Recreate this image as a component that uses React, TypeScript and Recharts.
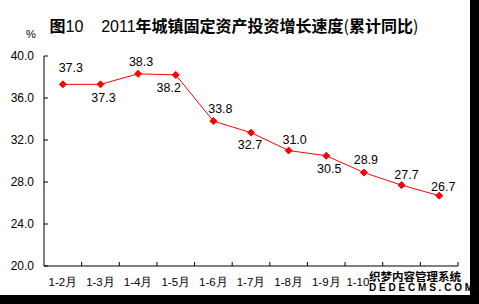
import { LineChart, Line, XAxis, YAxis, LabelList } from "recharts";

const months = ["1-2月", "1-3月", "1-4月", "1-5月", "1-6月", "1-7月", "1-8月", "1-9月", "1-10月", "1-11月", "1-12月"];
const growth = [37.3, 37.3, 38.3, 38.2, 33.8, 32.7, 31.0, 30.5, 28.9, 27.7, 26.7];
const yTicks = [20, 24, 28, 32, 36, 40];

// label nudges (dx, dy) relative to each point
const labelNudge: [number, number][] = [
  [8, -17], [3, 13], [3, -12], [-7, 13], [7, -13], [-1, 12], [6, -11], [3, 13], [2, -13], [5, -11], [4, -9],
];
// the last two month labels sit under the site watermark in the original
const hiddenUnderMark = 2;

const data = months.map((m, i) => ({ month: m, value: growth[i] }));

const FONT = '"Liberation Sans", Arial, sans-serif';
const AXIS_X = 44;
const AXIS_Y = 266;
const HALF_BAND = (458 - 44) / 11 / 2;

function YTick({ y, payload }: any) {
  return (
    <g>
      <line x1={AXIS_X} x2={AXIS_X + 4} y1={y} y2={y} stroke="#000" />
      <text x={34} y={y} dy={4} textAnchor="end" fontSize={12} fontFamily={FONT} fill="#000">
        {Number(payload.value).toFixed(1)}
      </text>
    </g>
  );
}

function XTick({ x, payload, index }: any) {
  const covered = index >= months.length - hiddenUnderMark;
  return (
    <g>
      <line x1={x + HALF_BAND} x2={x + HALF_BAND} y1={AXIS_Y} y2={AXIS_Y - 4} stroke="#000" />
      {!covered && (
        <text x={x} y={286} textAnchor="middle" fontSize={11.5} fontFamily={FONT} fill="#000">
          {payload.value}
        </text>
      )}
    </g>
  );
}

function Diamond({ cx, cy }: any) {
  const r = 3.5;
  return <polygon points={`${cx},${cy - r} ${cx + r},${cy} ${cx},${cy + r} ${cx - r},${cy}`} fill="#ff0000" stroke="#ff0000" />;
}

function ValueLabel({ x, y, value, index }: any) {
  const [dx, dy] = labelNudge[index] || [0, -12];
  return (
    <text x={x + dx} y={y + dy} dy={4.5} textAnchor="middle" fontSize={12.5} fontFamily={FONT} fill="#000">
      {Number(value).toFixed(1)}
    </text>
  );
}

export default function App() {
  return (
    <div style={{ position: "absolute", left: 0, top: 0, width: 479, height: 304, background: "#000" }}>
      <div style={{ position: "absolute", left: 0, top: 0, width: 470, height: 295, background: "#fff" }}>
        <div
          style={{
            position: "absolute",
            left: 0,
            top: 15,
            width: 468,
            textAlign: "center",
            fontSize: 16,
            lineHeight: "20px",
            fontFamily: '"Noto Sans CJK SC", sans-serif',
            fontWeight: 700,
            color: "#000",
            whiteSpace: "nowrap",
          }}
        >
          图<span style={{ fontFamily: FONT, fontWeight: 400 }}>10&nbsp;&nbsp;&nbsp;&nbsp;2011</span>年城镇固定资产投资增长速度
          <span style={{ fontWeight: 400 }}>(</span>累计同比<span style={{ fontWeight: 400 }}>)</span>
        </div>
        <div style={{ position: "absolute", left: 26, top: 28, fontSize: 11, fontFamily: FONT }}>%</div>
        <LineChart width={470} height={295} data={data} margin={{ top: 56, right: 12, left: 0, bottom: 0 }}>
          <XAxis
            dataKey="month"
            padding={{ left: HALF_BAND, right: HALF_BAND }}
            height={29}
            stroke="#000"
            tickLine={false}
            tick={<XTick />}
            interval={0}
          />
          <YAxis
            domain={[20, 40]}
            ticks={yTicks}
            width={44}
            stroke="#000"
            tickLine={false}
            tick={<YTick />}
            interval={0}
          />
          <Line
            type="linear"
            dataKey="value"
            stroke="#ff0000"
            strokeWidth={1}
            dot={<Diamond />}
            isAnimationActive={false}
          >
            <LabelList dataKey="value" content={<ValueLabel />} />
          </Line>
        </LineChart>
        <div
          style={{
            position: "absolute",
            left: 369,
            top: 270,
            width: 99,
            height: 24,
            background: "#fff",
            color: "#000",
            fontWeight: 700,
            whiteSpace: "nowrap",
          }}
        >
          <div style={{ fontSize: 11.5, lineHeight: "12px", fontFamily: '"Noto Sans CJK SC", sans-serif' }}>织梦内容管理系统</div>
          <div style={{ fontSize: 10, lineHeight: "11.5px", fontFamily: FONT, letterSpacing: 2.8 }}>DEDECMS.COM</div>
        </div>
      </div>
    </div>
  );
}
